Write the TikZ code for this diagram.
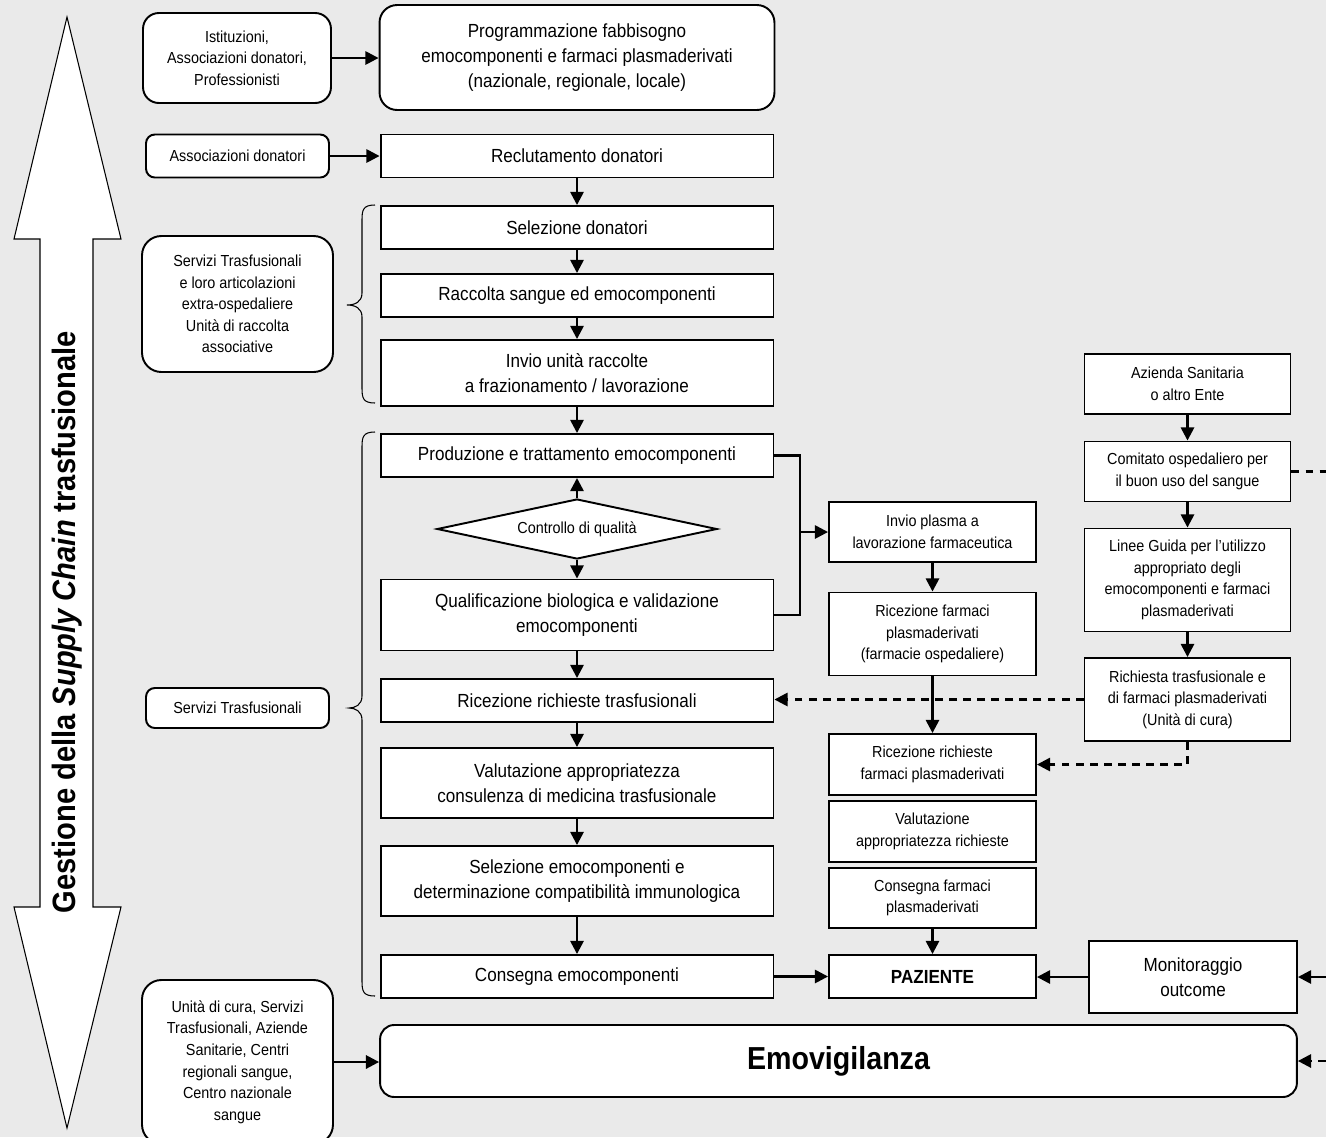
\documentclass[tikz,border=0pt]{standalone}
\usepackage{fontspec}
\setmainfont{Liberation Sans}[FakeStretch=0.9]
\usetikzlibrary{arrows.meta, shapes.geometric, positioning}

\definecolor{sfondo}{RGB}{234,234,234}

\tikzset{
  box/.style={draw, fill=white, line width=1.1pt, align=center, inner sep=1pt,
    font=\fontsize{10.8}{14.3}\selectfont},
  smallbox/.style={box, font=\fontsize{9.1}{12.3}\selectfont},
  freccia/.style={line width=1.4pt, -{Triangle[length=7.5pt,width=7.5pt]}},
  tratt/.style={freccia, dash pattern=on 4.5pt off 3.5pt},
}

\begin{document}
\begin{tikzpicture}[x=0.02cm, y=-0.02cm]
  % Background
  \fill[sfondo] (0,0) rectangle (1326,1137);
  \useasboundingbox (0,0) rectangle (1326,1137);

  % Double arrow on the left
  \draw[fill=white, line width=0.6pt] (67,17) -- (121,239) -- (93,239) -- (93,907)
    -- (121,907) -- (67,1128) -- (14,907) -- (40,907) -- (40,239) -- (14,239) -- cycle;
  \node[rotate=90, font=\fontsize{18.4}{20}\selectfont\bfseries] (titolo) at (67,622)
    {Gestione della \textit{Supply Chain} trasfusionale};

  % Actors (left column)
  \node[smallbox, rounded corners=9pt, minimum width=3.76cm, minimum height=1.8cm] (ist) at (237,58)
    {Istituzioni,\\Associazioni donatori,\\Professionisti};
  \node[smallbox, rounded corners=5pt, minimum width=3.66cm, minimum height=0.86cm] (assdon) at (237.5,156)
    {Associazioni donatori};
  \node[smallbox, rounded corners=11pt, minimum width=3.82cm, minimum height=2.72cm] (servloc) at (237.5,304)
    {Servizi Trasfusionali\\e loro articolazioni\\extra-ospedaliere\\Unità di raccolta\\associative};
  \node[smallbox, rounded corners=5pt, minimum width=3.66cm, minimum height=0.8cm] (servtr) at (237.5,708)
    {Servizi Trasfusionali};
  \node[smallbox, rounded corners=11pt, minimum width=3.82cm, minimum height=3.28cm] (unita) at (237.5,1062)
    {Unità di cura, Servizi\\Trasfusionali, Aziende\\Sanitarie, Centri\\regionali sangue,\\Centro nazionale\\sangue};

  % Main chain
  \node[box, rounded corners=10pt, minimum width=7.9cm, minimum height=2.1cm] (prog) at (577,57.5)
    {Programmazione fabbisogno\\emocomponenti e farmaci plasmaderivati\\(nazionale, regionale, locale)};
  \node[box, minimum width=7.86cm, minimum height=0.86cm] (recl) at (577,156) {Reclutamento donatori};
  \node[box, minimum width=7.86cm, minimum height=0.86cm] (sel) at (577,227.5) {Selezione donatori};
  \node[box, minimum width=7.86cm, minimum height=0.86cm] (racc) at (577,295.5) {Raccolta sangue ed emocomponenti};
  \node[box, minimum width=7.86cm, minimum height=1.32cm] (invio) at (577,373)
    {Invio unità raccolte\\a frazionamento / lavorazione};
  \node[box, minimum width=7.86cm, minimum height=0.86cm] (prod) at (577,455.5)
    {Produzione e trattamento emocomponenti};
  \node[diamond, aspect=4.67, draw, fill=white, line width=1.1pt, inner sep=0pt,
    minimum width=5.6cm, minimum height=1.2cm, font=\fontsize{9.1}{12.3}\selectfont] (qc) at (577,529)
    {Controllo di qualità};
  \node[box, minimum width=7.86cm, minimum height=1.42cm] (qual) at (577,615)
    {Qualificazione biologica e validazione\\emocomponenti};
  \node[box, minimum width=7.86cm, minimum height=0.86cm] (ricrt) at (577,700.5)
    {Ricezione richieste trasfusionali};
  \node[box, minimum width=7.86cm, minimum height=1.4cm] (valut) at (577,783)
    {Valutazione appropriatezza\\consulenza di medicina trasfusionale};
  \node[box, minimum width=7.86cm, minimum height=1.4cm] (selemo) at (577,881)
    {Selezione emocomponenti e\\determinazione compatibilità immunologica};
  \node[box, minimum width=7.86cm, minimum height=0.86cm] (consegna) at (577,976.5)
    {Consegna emocomponenti};
  \node[box, rounded corners=8pt, minimum width=18.34cm, minimum height=1.44cm,
    font=\fontsize{18.1}{20}\selectfont\bfseries] (emov) at (838.5,1061) {Emovigilanza};

  % Plasma derived drugs
  \node[smallbox, minimum width=4.14cm, minimum height=1.2cm] (inviopl) at (932.5,532)
    {Invio plasma a\\lavorazione farmaceutica};
  \node[smallbox, minimum width=4.14cm, minimum height=1.66cm] (ricfarm) at (932.5,634)
    {Ricezione farmaci\\plasmaderivati\\(farmacie ospedaliere)};
  \node[smallbox, minimum width=4.14cm, minimum height=1.22cm] (ricrichf) at (932.5,764.5)
    {Ricezione richieste\\farmaci plasmaderivati};
  \node[smallbox, minimum width=4.14cm, minimum height=1.22cm] (valrich) at (932.5,831.5)
    {Valutazione\\appropriatezza richieste};
  \node[smallbox, minimum width=4.14cm, minimum height=1.2cm] (consfarm) at (932.5,898)
    {Consegna farmaci\\plasmaderivati};
  \node[box, minimum width=4.14cm, minimum height=0.86cm, font=\fontsize{10.8}{14.3}\selectfont\bfseries] (paz)
    at (932.5,976.5) {PAZIENTE};

  % Hospital side
  \node[smallbox, minimum width=4.12cm, minimum height=1.2cm] (azienda) at (1187.5,384)
    {Azienda Sanitaria\\o altro Ente};
  \node[smallbox, minimum width=4.12cm, minimum height=1.2cm] (comitato) at (1187.5,471.5)
    {Comitato ospedaliero per\\il buon uso del sangue};
  \node[smallbox, minimum width=4.12cm, minimum height=2.06cm] (linee) at (1187.5,580)
    {Linee Guida per l’utilizzo\\appropriato degli\\emocomponenti e farmaci\\plasmaderivati};
  \node[smallbox, minimum width=4.12cm, minimum height=1.66cm] (richiesta) at (1187.5,699.5)
    {Richiesta trasfusionale e\\di farmaci plasmaderivati\\(Unità di cura)};
  \node[box, minimum width=4.16cm, minimum height=1.44cm] (monit) at (1193,977)
    {Monitoraggio\\outcome};

  % Free ends at the right border
  \coordinate (outcom) at (1326,471.5);
  \coordinate (inmonit) at (1326,977);
  \coordinate (inemov) at (1326,1061);
  \coordinate (split) at (800,532);

  % Braces
  \draw[line width=0.6pt] (375,205) .. controls (363,205) and (362,210) .. (362,220) -- (362,293)
    .. controls (362,302) and (355,305) .. (347,305) .. controls (355,305) and (362,308) .. (362,317)
    -- (362,388) .. controls (362,398) and (363,403) .. (375,403);
  \draw[line width=0.6pt] (375,432) .. controls (363,432) and (362,437) .. (362,447) -- (362,696)
    .. controls (362,705) and (355,708) .. (349,708) .. controls (355,708) and (362,711) .. (362,720)
    -- (362,981) .. controls (362,991) and (363,996) .. (375,996);

  % Connectors
  \draw[freccia] (ist.east) -- (ist.east -| prog.west);
  \draw[freccia] (assdon) -- (recl);
  \draw[freccia] (recl) -- (sel);
  \draw[freccia] (sel) -- (racc);
  \draw[freccia] (racc) -- (invio);
  \draw[freccia] (invio) -- (prod);
  \draw[freccia] (qc) -- (prod);
  \draw[freccia] (qc) -- (qual);
  \draw[freccia] (qual) -- (ricrt);
  \draw[freccia] (ricrt) -- (valut);
  \draw[freccia] (valut) -- (selemo);
  \draw[freccia] (selemo) -- (consegna);
  \draw[freccia] (consegna) -- (paz);
  \draw[line width=1.4pt] (prod.east) -| (split) |- (qual.east);
  \draw[freccia] (split) -- (inviopl);
  \draw[freccia] (inviopl) -- (ricfarm);
  \draw[freccia] (ricfarm) -- (ricrichf);
  \draw[freccia] (consfarm) -- (paz);
  \draw[freccia] (monit.west) -- (monit.west -| paz.east);
  \draw[freccia] (inmonit) -- (monit);
  \draw[freccia] (azienda) -- (comitato);
  \draw[freccia] (comitato) -- (linee);
  \draw[freccia] (linee) -- (richiesta);
  \draw[tratt, -] (comitato) -- (outcom);
  \draw[tratt] (richiesta.west) -- (richiesta.west -| ricrt.east);
  \draw[tratt] (richiesta.south) |- (ricrichf.east);
  \draw[freccia] (unita.east) -- (unita.east -| emov.west);
  \draw[tratt] (inemov) -- (emov);
\end{tikzpicture}
\end{document}
